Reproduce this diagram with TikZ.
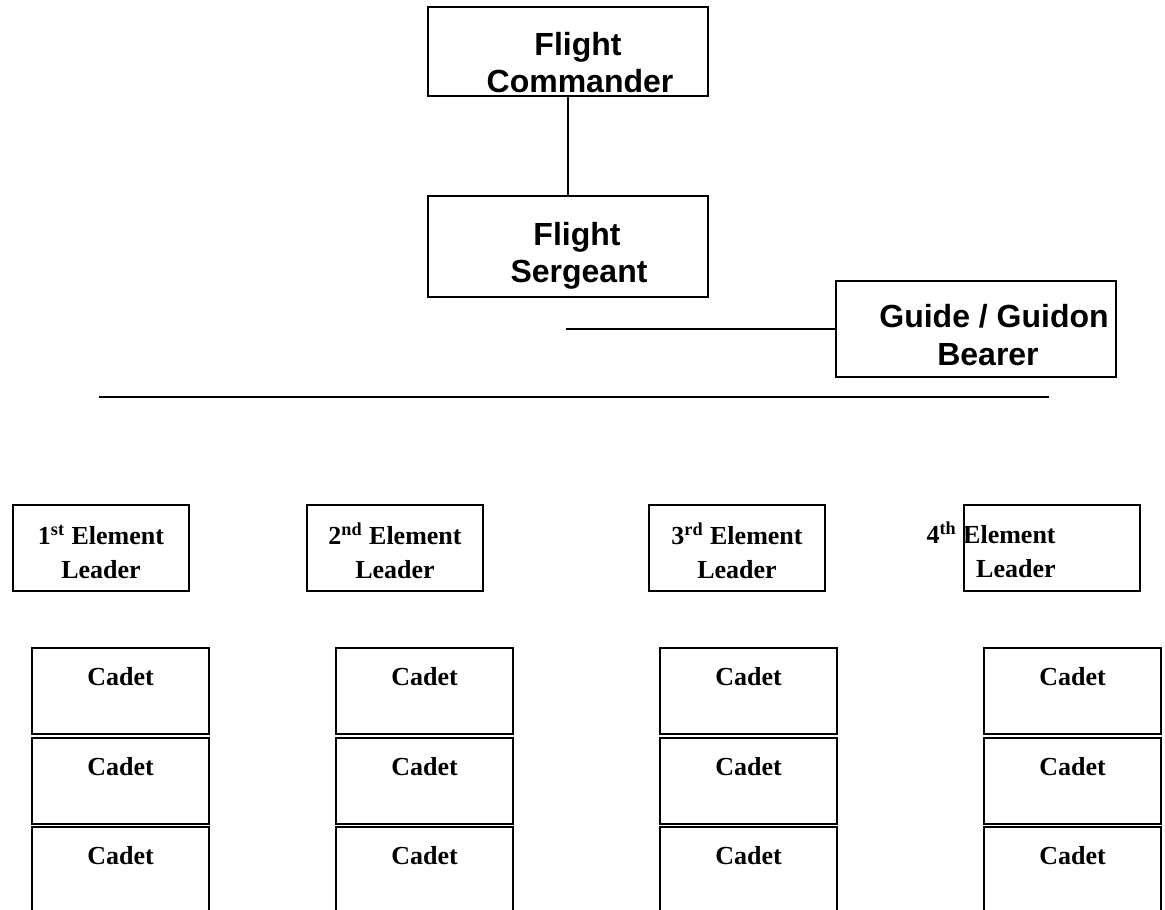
\documentclass[tikz,border=0pt]{standalone}
\usepackage{fontspec}
\setmainfont{Liberation Serif}
\newfontfamily\headfont{Liberation Sans}
\begin{document}
\begin{tikzpicture}[x=0.5pt,y=-0.5pt,
  box/.style={draw, line width=1pt, inner sep=0pt, anchor=north west},
  conn/.style={line width=1pt},
  headbox/.style={box, text width=140pt, align=flush center,
    font=\headfont\bfseries\fontsize{16}{18.5}\selectfont},
  leadfont/.style={font=\bfseries\fontsize{13}{17}\selectfont},
  leadbox/.style={box, leadfont, text width=88pt, align=flush center,
    text height=19.5pt, text depth=23.5pt},
  cadetbox/.style={box, font=\bfseries\fontsize{13}{17}\selectfont,
    text width=88.5pt, align=flush center, text height=18.5pt, text depth=24.5pt}
]
\clip (0,0) rectangle (1165,909);

% command chain
\node[headbox, text height=24.5pt, text depth=20pt] (fc) at (427,6)
  {\hspace*{10pt}Flight\\\hspace*{12pt}Commander};
\node[headbox, text height=24.5pt, text depth=26pt] (fs) at (427,195)
  {\hspace*{9pt}Flight\\\hspace*{11pt}Sergeant};
\node[headbox, text height=23pt, text depth=25pt,
  font=\headfont\bfseries\fontsize{16}{19}\selectfont] (guide) at (835,280)
  {\hspace*{18pt}Guide / Guidon\\\hspace*{12pt}Bearer};

\draw[conn] (fc.south) -- (fs.north);
\coordinate (gj) at (566,328);
\draw[conn] (gj |- guide.west) -- (guide.west);

% rule above the elements
\coordinate (ruleL) at (99,397);
\coordinate (ruleR) at (1049,397);
\draw[conn] (ruleL) -- (ruleR);

% element leaders
\node[leadbox] (e1) at (12,504) {1\textsuperscript{st} Element\\Leader};
\node[leadbox] (e2) at (306,504) {2\textsuperscript{nd} Element\\Leader};
\node[leadbox] (e3) at (648,504) {3\textsuperscript{rd} Element\\Leader};
\node[leadbox] (e4) at (963,504) {};
\node[leadfont, inner sep=0pt, anchor=north east, text width=70pt, align=flush right,
  text height=19.5pt] (e4t) at (1056,504) {4\textsuperscript{th} Element\\Leader};

% cadets
\foreach \cx/\i in {31/1,335/2,659/3,983/4}
  \foreach \cy/\j in {647/1,737/2,826/3}
    \node[cadetbox] (c\i\j) at (\cx,\cy) {Cadet};
\end{tikzpicture}
\end{document}
